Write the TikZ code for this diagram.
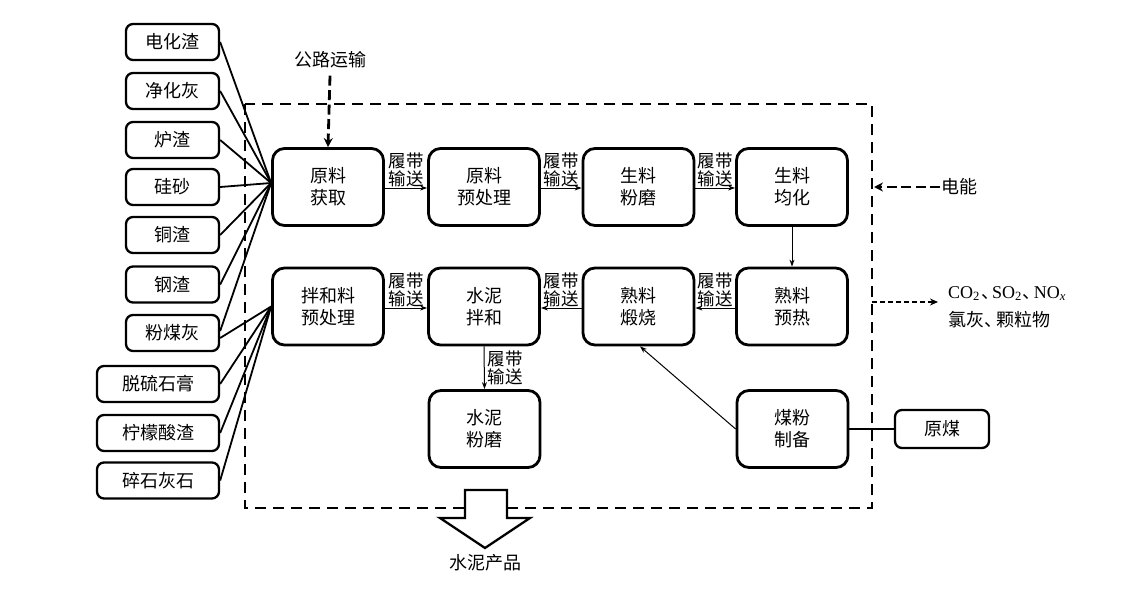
\documentclass[tikz,border=0pt]{standalone}
\usepackage{fontspec}
\setmainfont{Noto Sans CJK SC}
\newfontfamily\tnr{Liberation Serif}
\usetikzlibrary{arrows.meta,calc}
\tikzset{
  srcbox/.style={draw,line width=2.3pt,rounded corners=7pt,minimum height=36pt,inner sep=2pt,font=\fontsize{18}{20}\selectfont},
  procbox/.style={draw,line width=2.8pt,rounded corners=12pt,minimum width=111pt,minimum height=77pt,align=center,font=\fontsize{18}{22}\selectfont},
  feed/.style={line width=1.8pt},
  arr/.style={line width=1pt,-{Stealth[length=7pt,width=5pt]}},
  lbl/.style={align=center,inner sep=1pt,font=\fontsize{17.5}{17.5}\selectfont},
  boundary/.style={line width=2.8pt,dash pattern=on 11pt off 7pt},
  thickdash/.style={line width=2.8pt,dash pattern=on 10pt off 4.5pt,-{Stealth[length=9pt,width=9pt]}},
  thindash/.style={line width=1.6pt,dash pattern=on 5pt off 3pt,-{Stealth[length=8pt,width=7pt]}},
  txt/.style={inner sep=1pt,font=\fontsize{18}{22}\selectfont}
}
\begin{document}
\begin{tikzpicture}[x=1pt,y=-1pt]
\useasboundingbox (0,0) rectangle (1129,597);
% system boundary
\draw[boundary] (245,104) rectangle (872,508);
% source boxes
\node[srcbox,minimum width=93pt] (s1) at (172.5,42) {电化渣};
\node[srcbox,minimum width=93pt] (s2) at (172.5,91) {净化灰};
\node[srcbox,minimum width=93pt] (s3) at (172.5,140) {炉渣};
\node[srcbox,minimum width=93pt] (s4) at (172.5,187) {硅砂};
\node[srcbox,minimum width=93pt] (s5) at (172.5,235) {铜渣};
\node[srcbox,minimum width=93pt] (s6) at (172.5,284.5) {钢渣};
\node[srcbox,minimum width=93pt] (s7) at (172.5,333) {粉煤灰};
\node[srcbox,minimum width=122pt] (s8) at (158,384) {脱硫石膏};
\node[srcbox,minimum width=122pt] (s9) at (158,433) {柠檬酸渣};
\node[srcbox,minimum width=122pt] (s10) at (158,480.5) {碎石灰石};
% process boxes
\node[procbox] (b1) at (328,187) {原料\\获取};
\node[procbox] (b2) at (484,187) {原料\\预处理};
\node[procbox] (b3) at (638.5,187) {生料\\粉磨};
\node[procbox] (b4) at (792,187) {生料\\均化};
\node[procbox] (b5) at (328,306.5) {拌和料\\预处理};
\node[procbox] (b6) at (484,306.5) {水泥\\拌和};
\node[procbox] (b7) at (638.5,306.5) {熟料\\煅烧};
\node[procbox] (b8) at (792,306.5) {熟料\\预热};
\node[procbox] (b9) at (484.5,429) {水泥\\粉磨};
\node[procbox] (b10) at (792.5,429) {煤粉\\制备};
\node[srcbox,minimum width=94pt,minimum height=38pt] (coal) at (942,429) {原煤};
% feed lines
\coordinate (in1) at ($(b1.west)+(0,-4)$);
\foreach \s in {s1,s2,s3,s4,s5,s6}{\draw[feed] (\s.east) -- (in1);}
\draw[feed] ($(s7.east)+(0,-2)$) -- (in1);
\draw[feed] ($(s7.east)+(0,5)$) -- (b5.west);
\foreach \s in {s8,s9,s10}{\draw[feed] (\s.east) -- (b5.west);}
% conveyors
\draw[arr] ($(b1.east)+(0,1)$) -- node[lbl,above] (l1) {履带\\输送} ($(b2.west)+(0,1)$);
\draw[arr] ($(b2.east)+(0,1)$) -- node[lbl,above] (l2) {履带\\输送} ($(b3.west)+(0,1)$);
\draw[arr] ($(b3.east)+(0,1)$) -- node[lbl,above] (l3) {履带\\输送} ($(b4.west)+(0,1)$);
\draw[arr] (b4.south) -- (b8.north);
\draw[arr] ($(b8.west)+(0,1.5)$) -- node[lbl,above] (l4) {履带\\输送} ($(b7.east)+(0,1.5)$);
\draw[arr] ($(b7.west)+(0,1.5)$) -- node[lbl,above] (l5) {履带\\输送} ($(b6.east)+(0,1.5)$);
\draw[arr] ($(b5.east)+(0,1.5)$) -- node[lbl,above] (l6) {履带\\输送} ($(b6.west)+(0,1.5)$);
\draw[arr] (b6.south) -- node[lbl,right,xshift=2pt] (l7) {履带\\输送} (b9.north);
\draw[arr] (b10.west) -- ($(b7.south)+(1.5,0)$);
\draw[line width=2.3pt] (b10.east) -- (coal.west);
% road transport
\node[txt] (road) at (330,60) {公路运输};
\draw[thickdash] ($(road.south)+(0,6)$) -- (b1.north);
% electricity
\node[txt,anchor=west] (elec) at (940,187) {电能};
\coordinate (elecin) at (874,187);
\draw[thickdash] (elec.west) -- (elecin);
% emissions
\coordinate (emout) at (872,302);
\node[anchor=west,align=left,inner sep=0pt,font=\fontsize{18}{28}\selectfont] (emis) at (948,307)
  {{\tnr CO\textsubscript{2}}\kern1pt、\kern-7pt{\tnr SO\textsubscript{2}}\kern1pt、\kern-7pt{\tnr NO\textsubscript{\textit{x}}}\\氯灰、\kern-6pt颗粒物};
\draw[thindash] (emout) -- (938,302);
% product
\draw[line width=2.3pt,fill=white] (465,490) -- (507,490) -- (507,518) -- (530,518) -- (485,548) -- (440,518) -- (465,518) -- cycle;
\node[txt] (prod) at (485,563) {水泥产品};
\end{tikzpicture}
\end{document}
